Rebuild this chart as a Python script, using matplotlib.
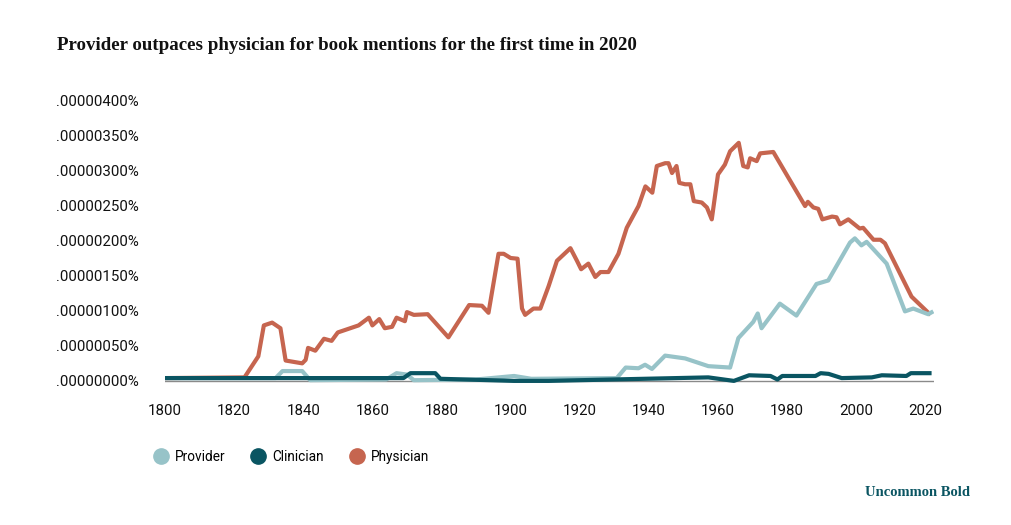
import matplotlib.pyplot as plt
from matplotlib.lines import Line2D
from matplotlib.ticker import FuncFormatter

# values are in units of 0.00000001 % (so 400 -> .00000400%)
phys_years = [1800, 1823, 1827, 1828.6, 1831, 1833.4, 1834.9, 1839.7, 1840.7, 1841.4, 1843.5,
              1846, 1848.2, 1850, 1856, 1859, 1860, 1862, 1863.6, 1865.7, 1867, 1869.4, 1870,
              1872, 1876, 1882, 1888, 1891.7, 1893.6, 1896.5, 1898, 1900, 1902, 1903.3, 1904.2,
              1906.6, 1908.6, 1911, 1913.4, 1917.3, 1919.2, 1920.4, 1922.5, 1924.5, 1926, 1928.3,
              1931.2, 1933.6, 1937, 1939, 1941, 1942.3, 1944.7, 1945.7, 1946.7, 1948, 1948.8,
              1950.5, 1952, 1953, 1955.3, 1956.8, 1958.2, 1960, 1962, 1963.5, 1966, 1967.3, 1968.6,
              1969.3, 1971.2, 1972.2, 1976, 1985.2, 1986, 1987.6, 1989, 1990.2, 1993, 1994.3,
              1995.3, 1997.7, 2001, 2002, 2005, 2007, 2008.3, 2016, 2021.5]
physician = [4, 5, 35, 79, 83, 75, 29, 25, 30, 47, 43,
             60, 57, 69, 79, 90, 79, 88, 75, 77, 90, 85, 98,
             94, 95, 62, 108, 107, 97, 181, 181, 175, 174, 103, 94,
             103, 103, 135, 171, 189, 171, 159, 167, 148, 155, 155,
             181, 218, 249, 277, 268, 306, 310, 310, 296, 306, 282,
             280, 280, 256, 254, 247, 230, 294, 308, 327, 339, 306, 304,
             317, 313, 324, 326, 249, 255, 247, 245, 230, 234, 233,
             223, 230, 217, 218, 201, 201, 196, 120, 94]

prov_years = [1800, 1832, 1834, 1839.7, 1842, 1864, 1867, 1870, 1872, 1890, 1901, 1906, 1930.7,
              1933.3, 1937, 1938.9, 1940.9, 1944.7, 1950.5, 1957.2, 1963.5, 1965.9, 1970.2,
              1971.5, 1972.6, 1977.9, 1982.7, 1988.5, 1991.9, 1998.2, 1999.6, 2001.5, 2003,
              2008.8, 2014.1, 2016.5, 2020.8, 2022.3]
provider = [4, 4, 14, 14, 1, 2, 11, 9, 1, 2, 7, 3, 4,
            19, 18, 23, 17, 36, 32, 21, 19, 61, 84,
            96, 75, 110, 93, 138, 143, 197, 203, 193, 198,
            167, 99, 103, 95, 99]

clin_years = [1800, 1869, 1871, 1878.2, 1879.7, 1901, 1911, 1957.2, 1964.6, 1969, 1975.2,
              1977.2, 1978.6, 1988.2, 1989.7, 1992, 1995.8, 2004.5, 2007.4, 2014.5, 2015.8, 2021.8]
clinician = [4, 4, 11, 11, 3, 0, 0, 5, 0, 8, 7,
             2, 7, 7, 11, 10, 4, 5, 8, 7, 11, 11]

series = [("Provider", prov_years, provider, "#97c3c8"),
          ("Clinician", clin_years, clinician, "#0a5562"),
          ("Physician", phys_years, physician, "#c6654f")]
yticks = [0, 50, 100, 150, 200, 250, 300, 350, 400]
xticks = list(range(1800, 2021, 20))

plt.rcParams["font.family"] = ["Roboto", "DejaVu Sans"]
serif = ["Liberation Serif", "DejaVu Serif"]

fig = plt.figure(figsize=(10.11, 5.25), dpi=100)
ax = fig.add_axes([165 / 1011, 1 - 383 / 525, (934 - 165) / 1011, 283 / 525])

# physician under, then provider, clinician on top
for name, yrs, vals, col in [series[2], series[0], series[1]]:
    ax.plot(yrs, vals, color=col, lw=3, solid_capstyle="butt", solid_joinstyle="round", zorder=3)

ax.axhline(0, color="#8a8a8a", lw=1, zorder=2)
ax.set_xlim(1800, 2022.5)
ax.set_ylim(-3, 400)
ax.set_yticks(yticks)
ax.yaxis.set_major_formatter(FuncFormatter(lambda v, p: ".%08d%%" % int(round(v))))
ax.set_xticks(xticks)
for s in ax.spines.values():
    s.set_visible(False)
ax.tick_params(length=0, labelsize=10.8, colors="#111111")
ax.tick_params(axis="y", pad=19)
ax.tick_params(axis="x", pad=15)

handles = [Line2D([], [], marker="o", ls="none", markersize=11, color=c, label=n)
           for n, _, _, c in series]
leg = fig.legend(handles=handles, loc="center left", bbox_to_anchor=(135 / 1011, 1 - 457 / 525),
                 ncol=3, frameon=False, handletextpad=0.0, columnspacing=1.45,
                 prop={"size": 9.8})

fig.text(57 / 1011, 1 - 45 / 525, "Provider outpaces physician for book mentions for the first time in 2020",
         family=serif, weight="bold", size=13.6, va="center", ha="left", color="#111111")
fig.text(970 / 1011, 1 - 493 / 525, "Uncommon Bold", family=serif, weight="bold", size=10.5,
         va="center", ha="right", color="#0a5562")

fig.savefig("out.png", dpi=100)
